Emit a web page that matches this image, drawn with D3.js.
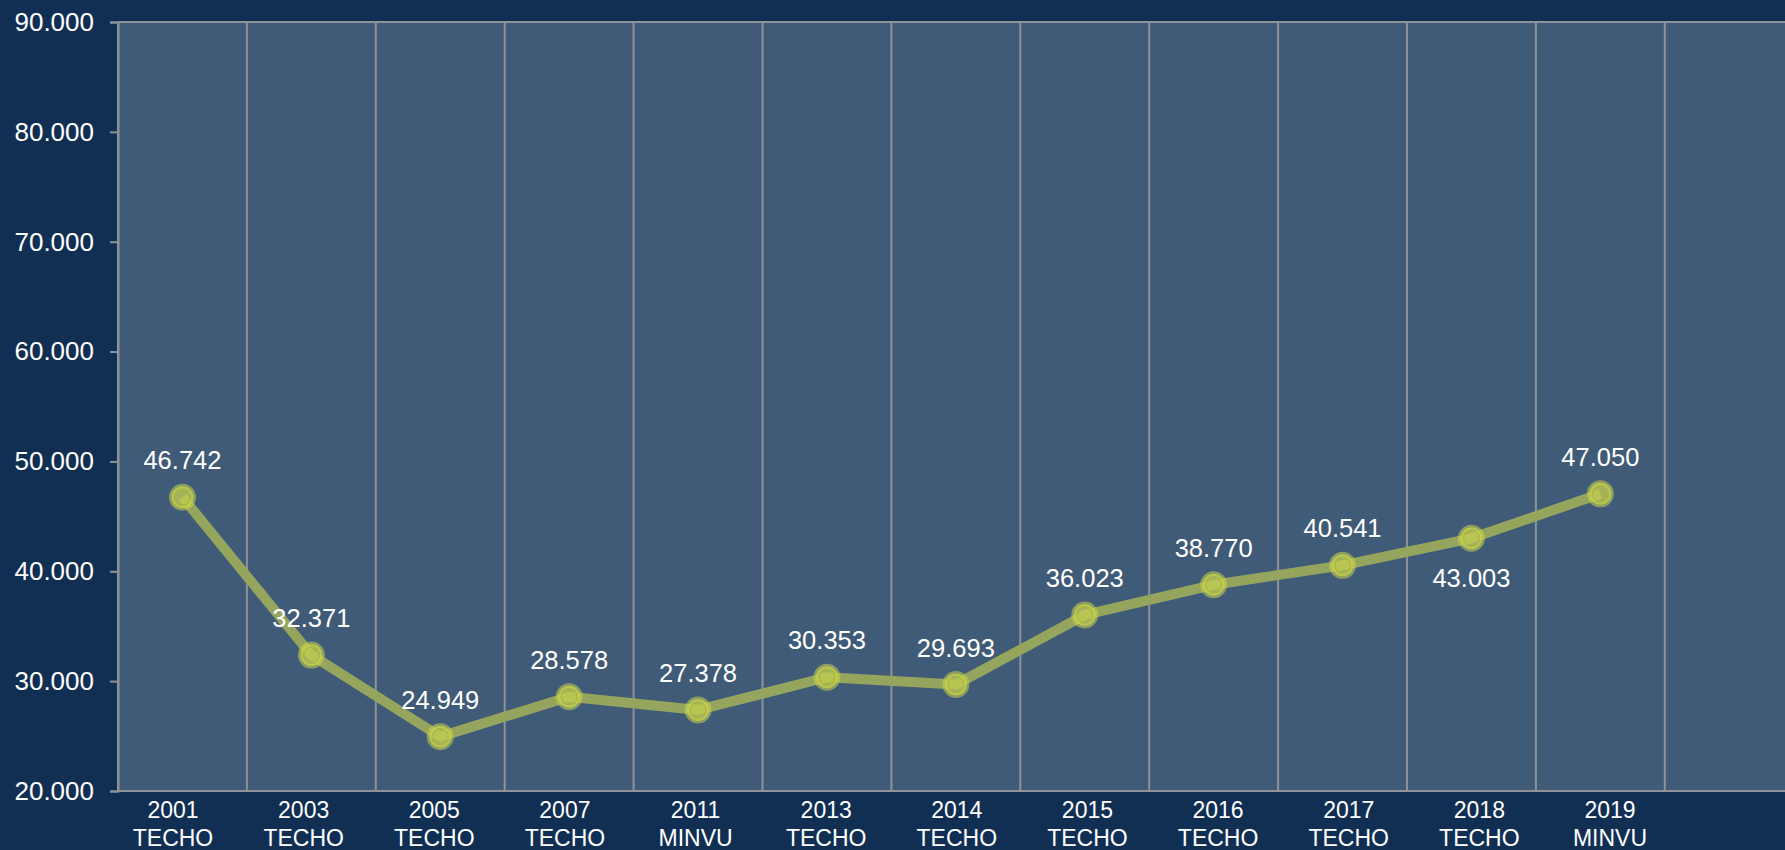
<!DOCTYPE html>
<html><head><meta charset="utf-8">
<script src="https://cdn.jsdelivr.net/npm/d3@7"></script>
<style>html,body{margin:0;padding:0;background:#112f53;overflow:hidden}</style>
</head><body>
<svg id="c" width="1785" height="850"></svg>
<script>
const years = ["2001","2003","2005","2007","2011","2013","2014","2015","2016","2017","2018","2019"];
const sources = ["TECHO","TECHO","TECHO","TECHO","MINVU","TECHO","TECHO","TECHO","TECHO","TECHO","TECHO","MINVU"];
const values = [46742,32371,24949,28578,27378,30353,29693,36023,38770,40541,43003,47050];
const labelSide = ["above","above","above","above","above","above","above","above","above","above","below","above"];
const yTicks = [20000,30000,40000,50000,60000,70000,80000,90000];

const svg = d3.select("#c");
const pLeft = 118, pTop = 22, pBottom = 791, bandW = 128.9;
const slots = years.concat(["_"]);
const x = d3.scaleBand().domain(slots).range([pLeft, pLeft + bandW*slots.length]).padding(0);
const xLab = d3.scalePoint().domain(years).range([173, 1610]);
const y = d3.scaleLinear().domain([20000, 90000]).range([pBottom, pTop]);
const numFmt = v => { const s = String(v); return s.slice(0, s.length-3) + "." + s.slice(-3); };
const font = "Liberation Sans, Arial, sans-serif";
const gridCol = "#8e9398";

svg.append("rect").attr("x", pLeft).attr("y", pTop)
  .attr("width", x.range()[1]-pLeft).attr("height", pBottom-pTop).attr("fill", "#405b77");

// vertical grid lines
svg.append("g").selectAll("line").data(slots.map((d,i)=>i).concat([slots.length]))
  .join("line")
  .attr("x1", i => pLeft + i*x.bandwidth()).attr("x2", i => pLeft + i*x.bandwidth())
  .attr("y1", pTop).attr("y2", pBottom)
  .attr("stroke", gridCol).attr("stroke-width", 2);
// top border
svg.append("line").attr("x1", pLeft).attr("x2", x.range()[1]).attr("y1", pTop).attr("y2", pTop)
  .attr("stroke", gridCol).attr("stroke-width", 2);

// y axis
const yAxis = d3.axisLeft(y).tickValues(yTicks).tickSize(8).tickPadding(16).tickFormat(numFmt);
const ga = svg.append("g").attr("transform", `translate(${pLeft},0)`).call(yAxis);
ga.select(".domain").attr("stroke", gridCol).attr("stroke-width", 2);
ga.selectAll(".tick line").attr("stroke", gridCol).attr("stroke-width", 2);
ga.selectAll(".tick text").attr("fill", "#ffffff").style("font-family", font).style("font-size", "26px");

// x axis line
svg.append("line").attr("x1", pLeft).attr("x2", x.range()[1]).attr("y1", pBottom).attr("y2", pBottom)
  .attr("stroke", gridCol).attr("stroke-width", 2);

// x labels
const xl = svg.append("g").selectAll("text").data(years).join("text")
  .attr("text-anchor", "middle").attr("fill", "#ffffff")
  .style("font-family", font).style("font-size", "23px");
xl.append("tspan").attr("x", d => xLab(d)).attr("y", 818).text(d => d);
xl.append("tspan").attr("x", d => xLab(d)).attr("y", 846).text((d,i) => sources[i]);

// line
const pts = years.map((d,i) => [x(d) + x.bandwidth()/2, y(values[i])]);
svg.append("path").attr("d", d3.line()(pts))
  .attr("fill", "none").attr("stroke", "#95a55d").attr("stroke-width", 10)
  .attr("stroke-linejoin", "round");

// markers
const mk = svg.append("g").selectAll("g").data(pts).join("g")
  .attr("transform", p => `translate(${p[0]},${p[1]})`);
mk.append("circle").attr("r", 11).attr("fill", "#c6d050").attr("fill-opacity", 0.75)
  .attr("stroke", "#c9d44c").attr("stroke-opacity", 0.55).attr("stroke-width", 5);
mk.append("circle").attr("r", 8).attr("fill", "none")
  .attr("stroke", "#a9b448").attr("stroke-width", 1.5).attr("stroke-opacity", 0.8);

// value labels
svg.append("g").selectAll("text").data(values).join("text")
  .attr("x", (v,i) => pts[i][0])
  .attr("y", (v,i) => labelSide[i] === "above" ? pts[i][1] - 28 : pts[i][1] + 49)
  .attr("text-anchor", "middle").attr("fill", "#ffffff")
  .style("font-family", font).style("font-size", "25.5px")
  .text(v => numFmt(v));
</script>
</body></html>
